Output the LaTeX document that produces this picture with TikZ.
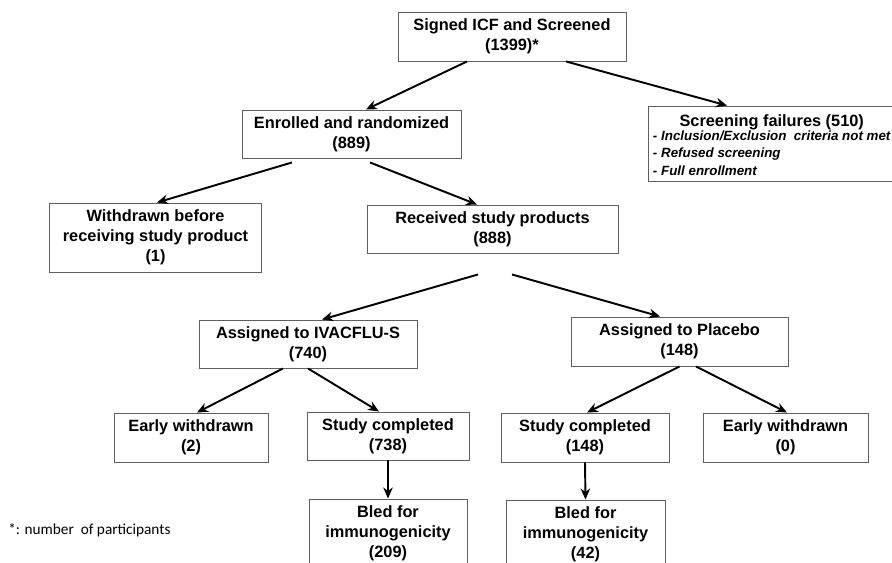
\documentclass[tikz,border=0pt]{standalone}
\usepackage{fontspec}
\setmainfont{Liberation Sans}
\newfontfamily\notefont{Carlito}
\usepackage{tikz}
\usetikzlibrary{arrows.meta,calc}
\definecolor{boxline}{RGB}{95,95,95}

\begin{document}
\begin{tikzpicture}[x=0.02cm,y=-0.02cm,
  flowbox/.style={draw=boxline,line width=0.55pt,align=center,inner sep=0pt,
    font=\bfseries\fontsize{9.3}{11.4}\selectfont},
  arr/.style={-{Stealth[length=2.2mm,width=1.9mm]},line width=1.1pt}]
\useasboundingbox (0,0) rectangle (892,563);
\node[flowbox,minimum width=4.56cm,minimum height=0.98cm] (signed) at (512,36.5) {Signed ICF and Screened\\(1399)*};
\node[flowbox,anchor=west,inner xsep=0.09cm,minimum height=1.5cm] (screen) at (648,143.5) {%
\fontsize{7.6}{9.8}\selectfont
\begin{tabular}{@{}l@{}}
\multicolumn{1}{@{}c@{}}{\rule{0pt}{11.5pt}\fontsize{9.3}{11.4}\selectfont\bfseries Screening failures (510)}\\[-2pt]
\bfseries\itshape - Inclusion/Exclusion\ \ criteria not met\\
\bfseries\itshape - Refused screening\\
\bfseries\itshape - Full enrollment
\end{tabular}};
\node[flowbox,minimum width=4.38cm,minimum height=0.96cm] (enrol) at (351.5,134) {Enrolled and randomized\\(889)};
\node[flowbox,minimum width=4.26cm,minimum height=1.38cm] (withdr) at (155.5,237.5) {Withdrawn before\\receiving study product\\(1)};
\node[flowbox,minimum width=5.02cm,minimum height=0.96cm] (recv) at (492.5,229) {Received study products\\(888)};
\node[flowbox,minimum width=4.36cm,minimum height=0.96cm] (ivac) at (308,344) {Assigned to IVACFLU-S\\(740)};
\node[flowbox,minimum width=4.34cm,minimum height=0.98cm] (placebo) at (679.5,341.5) {Assigned to Placebo\\(148)};
\node[flowbox,minimum width=3.08cm,minimum height=0.98cm] (earlyA) at (191,437.5) {Early withdrawn\\(2)};
\node[flowbox,minimum width=3.24cm,minimum height=0.96cm] (compA) at (388,436) {Study completed\\(738)};
\node[flowbox,minimum width=3.36cm,minimum height=0.98cm] (compB) at (585,437.5) {Study completed\\(148)};
\node[flowbox,minimum width=3.30cm,minimum height=0.98cm] (earlyB) at (785.5,437.5) {Early withdrawn\\(0)};
\node[flowbox,minimum width=3.16cm,minimum height=1.38cm] (bledA) at (388,533.5) {Bled for\\immunogenicity\\(209)};
\node[flowbox,minimum width=3.18cm,minimum height=1.38cm] (bledB) at (585.5,534.5) {Bled for\\immunogenicity\\(42)};
\node[anchor=west,inner sep=0pt,font=\notefont\fontsize{8.7}{10}\selectfont] (note) at (8,530) {*: number\ \ of participants};

\draw[arr] ($(signed.south)+(-45,0)$) -- ($(enrol.north)+(14.5,0)$);
\draw[arr] ($(signed.south)+(54,0)$) -- ($(screen.north west)+(79,0)$);
\draw[arr] ($(enrol.south)+(-59.5,4)$) -- ($(withdr.north)+(1.5,0)$);
\draw[arr] ($(enrol.south)+(18.5,4)$) -- ($(recv.north)+(-15.5,0)$);
\draw[arr] ($(recv.south)+(-14.5,21)$) -- ($(ivac.north)+(14,0)$);
\draw[arr] ($(recv.south)+(19.5,21)$) -- ($(placebo.north)+(-19.5,0)$);
\draw[arr] ($(ivac.south)+(-25,0)$) -- ($(earlyA.north)+(6,0)$);
\draw[arr] (ivac.south) -- ($(compA.north)+(-9,0)$);
\draw[arr] (placebo.south) -- ($(compB.north)+(2,0)$);
\draw[arr] ($(placebo.south)+(16.5,0)$) -- ($(earlyB.north)+(1.5,0)$);
\draw[arr] (compA.south) -- (bledA.north);
\draw[arr] (compB.south) -- (bledB.north);
\end{tikzpicture}
\end{document}
